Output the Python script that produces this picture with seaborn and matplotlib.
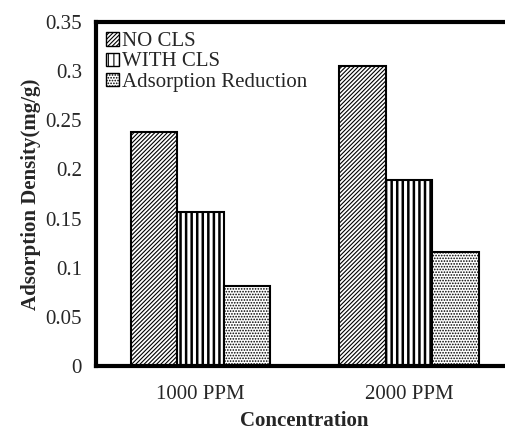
import matplotlib
matplotlib.use("Agg")
import matplotlib.pyplot as plt
from matplotlib.patches import Patch
import pandas as pd
import seaborn as sns

concentrations = ["1000 PPM", "2000 PPM"]
series = ["NO CLS", "WITH CLS", "Adsorption Reduction"]
no_cls = [0.238, 0.305]
with_cls = [0.157, 0.189]
reduction = [0.081, 0.116]
y_ticks = [0, 0.05, 0.1, 0.15, 0.2, 0.25, 0.3, 0.35]
y_tick_labels = ["0", "0.05", "0.1", "0.15", "0.2", "0.25", "0.3", "0.35"]

hatches = ["////////", "|||", "......"]

df = pd.DataFrame({
    "Concentration": concentrations * 3,
    "Series": [s for s in series for _ in concentrations],
    "Value": no_cls + with_cls + reduction,
})

sns.set_style("white")
plt.rcParams["font.family"] = ["Liberation Serif", "DejaVu Serif"]
plt.rcParams["hatch.linewidth"] = 0.8

fig = plt.figure(figsize=(5.06, 4.32), dpi=100)
ax = fig.add_axes([0.1897, 0.1528, 0.825, 0.7962])

sns.barplot(
    data=df, x="Concentration", y="Value", hue="Series",
    order=concentrations, hue_order=series,
    palette=["white"] * 3, width=0.667, edgecolor="black",
    linewidth=1.5, legend=False, ax=ax,
)

for container, hatch in zip(ax.containers, hatches):
    for bar in container:
        bar.set_hatch(hatch)
        bar.set_facecolor("white")
        bar.set_edgecolor("black")
        if hatch.startswith("|") and hasattr(bar, "set_hatch_linewidth"):
            bar.set_hatch_linewidth(1.8)

ax.set_xlim(-0.5, 1.5)
ax.set_ylim(0, 0.35)
ax.set_yticks(y_ticks)
ax.set_yticklabels(y_tick_labels)
ax.tick_params(axis="y", direction="in", length=5, width=2, labelsize=15, pad=10)
ax.tick_params(axis="x", which="major", length=0, labelsize=15, pad=14)
ax.set_xticks([0.5], minor=True)
ax.tick_params(axis="x", which="minor", direction="in", length=5, width=3)

for side in ["left", "bottom", "top"]:
    ax.spines[side].set_linewidth(3)
    ax.spines[side].set_color("black")
ax.spines["right"].set_visible(False)

ax.set_xlabel("Concentration", fontsize=15, fontweight="bold", labelpad=5)
ax.set_ylabel("Adsorption Density(mg/g)", fontsize=15, fontweight="bold", labelpad=3)

handles = [Patch(facecolor="white", edgecolor="black", hatch=h, label=s)
           for h, s in zip(hatches, series)]
ax.legend(handles=handles, loc="upper left", frameon=False, fontsize=15,
          handlelength=0.6, handleheight=0.6, handletextpad=0.15,
          labelspacing=0.05, borderaxespad=0.3, borderpad=0.2)

fig.savefig("out.png", dpi=100)
plt.close(fig)
